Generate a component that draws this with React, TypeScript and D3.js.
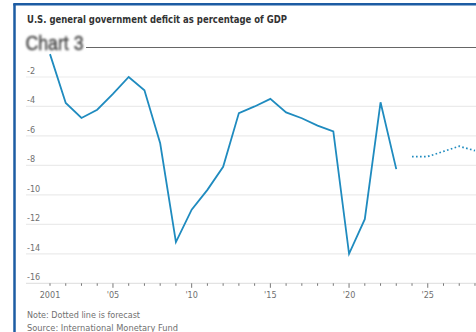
import React from "react";
import * as d3 from "d3";

const years = [2001,2002,2003,2004,2005,2006,2007,2008,2009,2010,2011,2012,2013,2014,2015,2016,2017,2018,2019,2020,2021,2022,2023];
const deficit = [-0.45,-3.76,-4.78,-4.22,-3.15,-2.0,-2.9,-6.5,-13.2,-11.0,-9.66,-8.1,-4.45,-4.0,-3.49,-4.4,-4.8,-5.3,-5.7,-14.0,-11.65,-3.72,-8.25];
const forecastYears = [2024,2025,2026,2027,2028];
const forecast = [-7.4,-7.4,-7.05,-6.7,-7.0];
const yTicks = [-2,-4,-6,-8,-10,-12,-14,-16];
const xMajor = [2001,2005,2010,2015,2020,2025];
const xLabels = ["2001","'05","'10","'15","'20","'25"];

const W = 476, H = 332;
const FONT = "'Liberation Sans Narrow', 'DejaVu Sans Condensed', 'Liberation Sans', sans-serif";

export default function App() {
  const x = d3.scaleLinear().domain([2001, 2006]).range([50, 128.7]);
  const y = d3.scaleLinear().domain([0, -16]).range([47.5, 283.3]);
  const line = d3.line<number>().x((_, i) => x(years[i])).y((d) => y(d));
  const fline = d3.line<number>().x((_, i) => x(forecastYears[i])).y((d) => y(d));
  const allTicks = d3.range(2001, 2030);
  const lineColor = "#1f8bbf";
  return (
    <svg width={W} height={H} style={{ position: "absolute", left: 0, top: 0, background: "#fff" }}>
      <rect x={0} y={0} width={W} height={H} fill="#fff" />
      {/* border */}
      <line x1={14.5} y1={4} x2={14.5} y2={H} stroke="#1d5ca3" strokeWidth={2.5} />
      <line x1={13.25} y1={4.2} x2={W} y2={4.2} stroke="#1d5ca3" strokeWidth={2.5} />
      {/* title */}
      <text x={27} y={23} fontFamily={FONT} fontSize={11} fontWeight={700} fill="#333" textLength={260} lengthAdjust="spacingAndGlyphs">U.S. general government deficit as percentage of GDP</text>
      {/* gridlines */}
      {yTicks.slice(0, 7).map((t) => (
        <line key={t} x1={26} x2={W} y1={y(t)} y2={y(t)} stroke="#ebebeb" strokeWidth={1.2} />
      ))}
      {yTicks.map((t) => (
        <text key={"l" + t} x={27} y={y(t) - 3} fontFamily={FONT} fontSize={9} fill="#707070">{t}</text>
      ))}
      {/* x axis */}
      <line x1={26} x2={W} y1={y(-16)} y2={y(-16)} stroke="#dcdcdc" strokeWidth={1} />
      {allTicks.map((t) => (
        <line key={"t" + t} x1={x(t)} x2={x(t)} y1={y(-16)} y2={y(-16) + (xMajor.includes(t) && t !== 2001 ? 4.5 : 2.5)} stroke="#777" strokeWidth={1} />
      ))}
      {xMajor.map((t, i) => (
        <text key={"x" + t} x={x(t)} y={298} textAnchor="middle" fontFamily={FONT} fontSize={9} fill="#707070">{xLabels[i]}</text>
      ))}
      {/* data */}
      <path d={line(deficit) || ""} fill="none" stroke={lineColor} strokeWidth={1.8} strokeLinejoin="miter" />
      <path d={fline(forecast) || ""} fill="none" stroke={lineColor} strokeWidth={1.8} strokeDasharray="1.6,2.4" />
      {/* zero line + chart label overlay */}
      <line x1={26} x2={W} y1={y(0)} y2={y(0)} stroke="#666" strokeWidth={1} />
      <rect x={24} y={31} width={62} height={22} fill="#fff" />
      <text x={25.5} y={50} fontFamily="'Liberation Sans', Arial, sans-serif" fontSize={20} fill="#444" stroke="#444" strokeWidth={0.4} textLength={58} lengthAdjust="spacingAndGlyphs" style={{ filter: "blur(0.8px)" }}>Chart 3</text>
      {/* notes */}
      <text x={27} y={318} fontFamily={FONT} fontSize={9.5} fill="#707070" textLength={113} lengthAdjust="spacingAndGlyphs">Note: Dotted line is forecast</text>
      <text x={27} y={330.5} fontFamily={FONT} fontSize={9.5} fill="#707070" textLength={151} lengthAdjust="spacingAndGlyphs">Source: International Monetary Fund</text>
    </svg>
  );
}
